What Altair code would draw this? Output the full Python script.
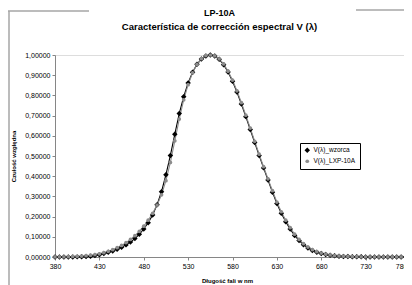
import altair as alt
import pandas as pd

wavelength = list(range(380, 785, 5))
v_wzorca = [0.000039, 0.000064, 0.00012, 0.000217, 0.000396, 0.00064, 0.00121, 0.00218, 0.004, 0.0073,
            0.0116, 0.01684, 0.023, 0.0298, 0.038, 0.048, 0.06, 0.0739, 0.09098, 0.1126,
            0.13902, 0.1693, 0.20802, 0.2586, 0.323, 0.4073, 0.503, 0.6082, 0.71, 0.7932,
            0.862, 0.91485, 0.954, 0.9803, 0.99495, 1.0, 0.995, 0.9786, 0.952, 0.9154,
            0.87, 0.8163, 0.757, 0.6949, 0.631, 0.5668, 0.503, 0.4412, 0.381, 0.321,
            0.265, 0.217, 0.175, 0.1382, 0.107, 0.0816, 0.061, 0.04458, 0.032, 0.0232,
            0.017, 0.01192, 0.00821, 0.005723, 0.004102, 0.002929, 0.002091, 0.001484, 0.001047, 0.00074,
            0.00052, 0.000361, 0.000249, 0.000172, 0.00012, 0.0000848, 0.00006, 0.0000424, 0.00003, 0.0000212,
            0.000015]
v_lxp = [0.0005, 0.0008, 0.0012, 0.0018, 0.0025, 0.0035, 0.0048, 0.0065, 0.0088, 0.0118,
         0.0158, 0.0212, 0.0280, 0.0362, 0.0460, 0.0575, 0.0712, 0.0870, 0.1055, 0.1270,
         0.1525, 0.1820, 0.2165, 0.2570, 0.3080, 0.3780, 0.4680, 0.5750, 0.6830, 0.7780,
         0.8530, 0.9120, 0.9540, 0.9820, 0.9970, 1.0000, 0.9960, 0.9810, 0.9560, 0.9200,
         0.8760, 0.8230, 0.7640, 0.7020, 0.6380, 0.5730, 0.5090, 0.4470, 0.3870, 0.3280,
         0.2720, 0.2240, 0.1820, 0.1450, 0.1130, 0.0870, 0.0660, 0.0490, 0.0360, 0.0265,
         0.0195, 0.0142, 0.0102, 0.0074, 0.0054, 0.0040, 0.0030, 0.0022, 0.0016, 0.0012,
         0.0009, 0.0007, 0.0005, 0.0004, 0.0003, 0.0002, 0.0002, 0.0001, 0.0001, 0.0001,
         0.0001]
series_names = ["V(λ)_wzorca", "V(λ)_LXP-10A"]
x_ticks = list(range(380, 781, 50))
y_ticks = [i / 10 for i in range(11)]

n = len(wavelength)
df = pd.DataFrame({
    "lambda": wavelength * 2,
    "value": v_wzorca + v_lxp,
    "series": [series_names[0]] * n + [series_names[1]] * n,
})

FONT = "Liberation Sans"
AX = "#868686"

x_enc = alt.X("lambda:Q",
              scale=alt.Scale(domain=[380, 780], range=[0, 355], nice=False, zero=False),
              axis=alt.Axis(values=x_ticks, title="Długość fali w nm", grid=False,
                            labelFontSize=7, labelFont=FONT, labelColor="#000000", labelPadding=2,
                            labelAlign=alt.condition("datum.value == 780", alt.value("right"), alt.value("center")),
                            labelOffset=alt.condition("datum.value == 780", alt.value(-3), alt.value(0)),
                            tickSize=3, tickColor=AX, domainColor=AX, labelFlush=False,
                            titleFont=FONT, titleFontSize=6, titleFontWeight="bold",
                            titleX=172, titleY=23, titleBaseline="middle", titleAnchor="middle"))
y_enc = alt.Y("value:Q",
              scale=alt.Scale(domain=[0, 1], nice=False),
              axis=alt.Axis(values=y_ticks, title="Czułość względna", grid=False,
                            labelExpr="replace(format(datum.value, '.5f'), '.', ',')",
                            labelFontSize=7, labelFont=FONT, labelColor="#000000", labelPadding=2,
                            tickSize=3, tickColor=AX, domainColor=AX,
                            titleFont=FONT, titleFontSize=6, titleFontWeight="bold",
                            titleX=-42, titleY=101, titleBaseline="middle", titleAngle=270))
color_enc = alt.Color("series:N",
                      scale=alt.Scale(domain=series_names, range=["#000000", "#8c8c8c"]),
                      legend=alt.Legend(title=None, orient="none", legendX=245, legendY=88,
                                        symbolType="M-1,-0.07L1,-0.07L1,0.07L-1,0.07ZM0,-0.3L0.3,0L0,0.3L-0.3,0Z",
                                        symbolSize=160, symbolStrokeWidth=0,
                                        labelFont=FONT, labelFontSize=6.5, labelColor="#000000",
                                        strokeColor="#000000", fillColor="#ffffff",
                                        padding=4, rowPadding=4, labelOffset=3))

base = alt.Chart(df)
lines = base.mark_line(strokeWidth=1.1).encode(x=x_enc, y=y_enc, color=color_enc)
points = base.mark_point(filled=True, opacity=1).encode(
    x=x_enc, y=y_enc, color=color_enc,
    shape=alt.Shape("series:N", scale=alt.Scale(domain=series_names, range=["diamond", "circle"]), legend=None),
    size=alt.Size("series:N", scale=alt.Scale(domain=series_names, range=[30, 14]), legend=None),
)

frame_df = pd.DataFrame({"k": [0]})
frame_style = dict(color="#a6a6a6", strokeWidth=1.5)
f1 = alt.Chart(frame_df).mark_rule(**frame_style).encode(x=alt.value(-48), x2=alt.value(34), y=alt.value(-44))
f2 = alt.Chart(frame_df).mark_rule(**frame_style).encode(x=alt.value(301), x2=alt.value(370), y=alt.value(-45))
f3 = alt.Chart(frame_df).mark_rule(**frame_style).encode(x=alt.value(-46), y=alt.value(-44), y2=alt.value(240))

chart = alt.layer(f1, f2, f3, lines, points).properties(
    width=349, height=202,
    padding={"left": 47, "top": 47, "right": 0, "bottom": 28},
    autosize=alt.AutoSizeParams(type="none"),
    title=alt.Title("LP-10A", subtitle="Característica de corrección espectral V (λ)",
                    font=FONT, fontSize=9, fontWeight="bold", color="#000000",
                    subtitleFont=FONT, subtitleFontSize=9.5, subtitleFontWeight="bold",
                    subtitleColor="#000000", subtitlePadding=4, anchor="middle", dx=-10, offset=-22),
).configure_view(stroke=None).configure(background="#ffffff")

chart.save("out.html", embed_options={"renderer": "svg", "actions": False})
